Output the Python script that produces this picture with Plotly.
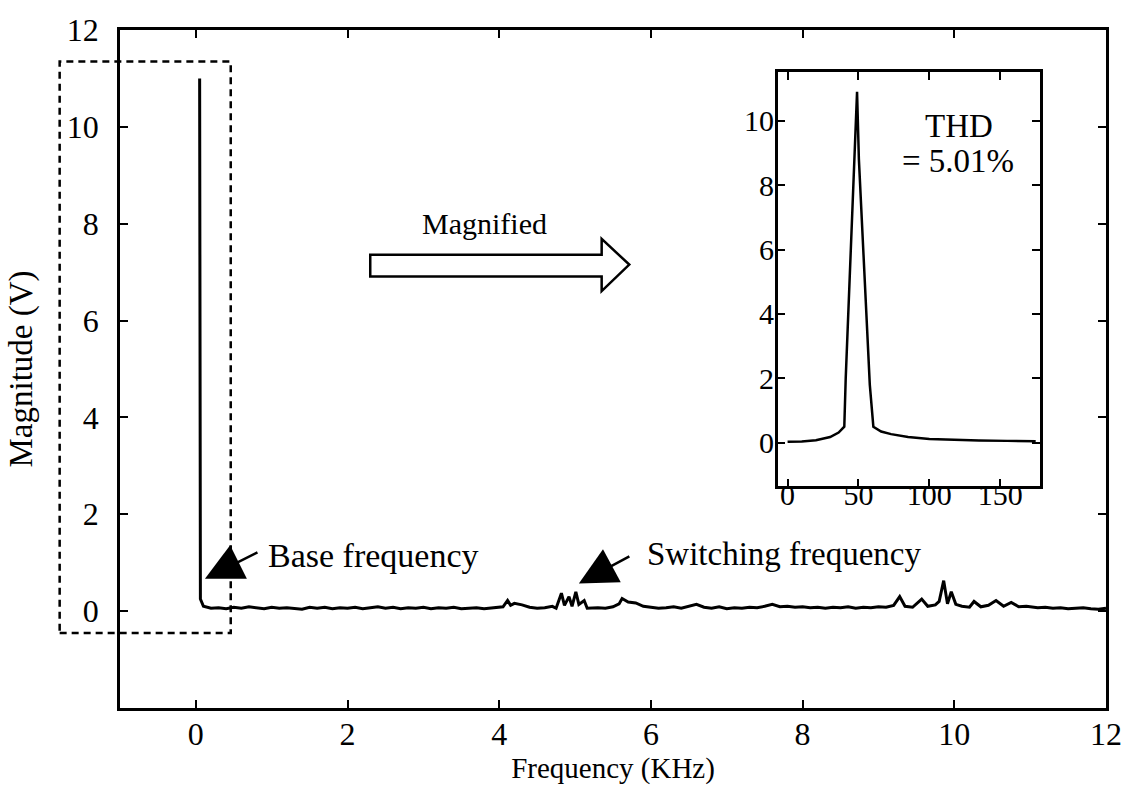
import plotly.graph_objects as go

# ---------------- data ----------------
# Main spectrum (frequency in kHz, magnitude in V)
freq_khz = [0.05, 0.06, 0.1, 0.2, 0.3, 0.4, 0.5, 0.6, 0.7, 0.8, 0.9, 1.0,
            1.1, 1.2, 1.3, 1.4, 1.5, 1.6, 1.7, 1.8, 1.9, 2.0,
            2.1, 2.2, 2.3, 2.4, 2.5, 2.6, 2.7, 2.8, 2.9, 3.0,
            3.1, 3.2, 3.3, 3.4, 3.5, 3.6, 3.7, 3.8, 3.9, 4.0,
            4.05, 4.11, 4.15, 4.2, 4.3, 4.4, 4.5, 4.6, 4.7, 4.75,
            4.82, 4.86, 4.92, 4.96, 5.01, 5.05, 5.12, 5.16, 5.3, 5.4,
            5.5, 5.58, 5.62, 5.7, 5.8, 5.9, 6.0, 6.1, 6.2, 6.3,
            6.4, 6.5, 6.6, 6.7, 6.8, 6.9, 7.0, 7.1, 7.2, 7.3,
            7.4, 7.5, 7.6, 7.7, 7.8, 7.9, 8.0, 8.1, 8.2, 8.3,
            8.4, 8.5, 8.6, 8.7, 8.8, 8.9, 9.0, 9.1, 9.2, 9.28,
            9.35, 9.45, 9.57, 9.65, 9.75, 9.8, 9.86, 9.91, 9.96, 10.02,
            10.1, 10.2, 10.26, 10.35, 10.45, 10.55, 10.65, 10.75, 10.85, 10.95,
            11.1, 11.2, 11.3, 11.4, 11.5, 11.6, 11.7, 11.8, 11.9, 12.0]
magnitude_v = [11.0, 0.25, 0.10, 0.06, 0.07, 0.05, 0.08, 0.06, 0.09, 0.07, 0.05, 0.08,
               0.06, 0.07, 0.05, 0.04, 0.08, 0.06, 0.08, 0.05, 0.07, 0.06,
               0.08, 0.05, 0.07, 0.09, 0.06, 0.08, 0.05, 0.07, 0.06, 0.08,
               0.05, 0.07, 0.06, 0.08, 0.05, 0.06, 0.07, 0.05, 0.06, 0.07,
               0.09, 0.22, 0.12, 0.16, 0.13, 0.08, 0.06, 0.07, 0.10, 0.06,
               0.37, 0.12, 0.30, 0.10, 0.40, 0.14, 0.22, 0.06, 0.07, 0.06,
               0.09, 0.15, 0.26, 0.19, 0.17, 0.10, 0.08, 0.06, 0.07, 0.09,
               0.06, 0.10, 0.14, 0.08, 0.06, 0.09, 0.05, 0.07, 0.06, 0.08,
               0.07, 0.10, 0.14, 0.09, 0.10, 0.08, 0.09, 0.07, 0.08, 0.06,
               0.08, 0.07, 0.09, 0.06, 0.08, 0.07, 0.09, 0.08, 0.12, 0.30,
               0.10, 0.08, 0.25, 0.10, 0.13, 0.20, 0.63, 0.15, 0.40, 0.14,
               0.10, 0.08, 0.20, 0.09, 0.12, 0.22, 0.10, 0.18, 0.09, 0.10,
               0.07, 0.08, 0.06, 0.07, 0.05, 0.06, 0.07, 0.05, 0.04, 0.06]

# Magnified inset (frequency in Hz)
inset_freq_hz = [0, 10, 20, 30, 36, 40, 41, 44, 47.5, 49, 50.3, 53, 56, 58, 60.5,
                 66, 73, 85, 100, 115, 135, 155, 175]
inset_mag_v = [0.03, 0.04, 0.08, 0.18, 0.32, 0.5, 2.0, 5.2, 8.8, 10.9, 8.8, 6.2, 3.8, 1.8, 0.5,
               0.35, 0.27, 0.18, 0.12, 0.09, 0.07, 0.06, 0.05]

main_xticks = [0, 2, 4, 6, 8, 10, 12]
main_yticks = [0, 2, 4, 6, 8, 10, 12]
inset_xticks = [0, 50, 100, 150]
inset_yticks = [0, 2, 4, 6, 8, 10]

FONT = "Liberation Serif"

fig = go.Figure()
fig.add_trace(go.Scatter(x=freq_khz, y=magnitude_v, mode="lines",
                         line=dict(color="black", width=3), xaxis="x", yaxis="y",
                         showlegend=False, hoverinfo="skip"))
fig.add_trace(go.Scatter(x=inset_freq_hz, y=inset_mag_v, mode="lines",
                         line=dict(color="black", width=2.5), xaxis="x2", yaxis="y2",
                         showlegend=False, hoverinfo="skip"))


def axis_common(size):
    return dict(showline=True, linecolor="black", linewidth=2.5, mirror="allticks",
                ticks="inside", ticklen=8, tickwidth=2, tickcolor="black",
                showgrid=False, zeroline=False,
                tickfont=dict(family=FONT, size=size, color="black"))


fig.update_layout(
    width=1134, height=790,
    margin=dict(l=120, r=17, t=20, b=82),
    paper_bgcolor="white", plot_bgcolor="white",
    font=dict(family=FONT, size=30, color="black"),
    xaxis=dict(range=[-1, 12], tickvals=main_xticks, domain=[0, 1],
               title=dict(text="Frequency (KHz)", font=dict(family=FONT, size=29), standoff=0),
               ticklabelstandoff=-4, **axis_common(32)),
    yaxis=dict(range=[-2, 12], tickvals=main_yticks, domain=[0, 1],
               title=dict(text="Magnitude (V)", font=dict(family=FONT, size=33), standoff=25),
               ticklabelstandoff=12, **axis_common(32)),
    xaxis2=dict(range=[-7, 178], tickvals=inset_xticks, domain=[0.667, 0.933],
                anchor="y2", ticklabelstandoff=-20, **axis_common(30)),
    yaxis2=dict(range=[-1.35, 11.5], tickvals=inset_yticks, domain=[0.327, 0.9375],
                anchor="x2", ticklabelstandoff=-5, **axis_common(30)),
)

shapes = []
# dashed region marking the magnified part
shapes.append(dict(type="rect", xref="paper", yref="paper",
                   x0=-0.0612, x1=0.1123, y0=0.1105, y1=0.9535,
                   line=dict(color="black", width=2.5, dash="7px,5px"), layer="above"))
# hollow block arrow "Magnified"
bx0, bx1, tip = 0.2538, 0.4885, 0.5165
by0, by1, hy0, hy1, ty = 0.6366, 0.6686, 0.6148, 0.6919, 0.654
path = (f"M {bx0},{by0} L {bx1},{by0} L {bx1},{hy0} L {tip},{ty} "
        f"L {bx1},{hy1} L {bx1},{by1} L {bx0},{by1} Z")
shapes.append(dict(type="path", xref="paper", yref="paper", path=path,
                   line=dict(color="black", width=2.5), fillcolor="white"))
fig.update_layout(shapes=shapes)

ann = []
ann.append(dict(x=3.81, y=8.0, xref="x", yref="y", text="Magnified", showarrow=False,
                font=dict(family=FONT, size=30)))
ann.append(dict(x=0.12, y=0.67, xref="x", yref="y", text="", showarrow=True,
                ax=54, ay=-27, arrowhead=2, arrowsize=3, arrowwidth=2.5, arrowcolor="black"))
ann.append(dict(x=0.93, y=1.14, xref="x", yref="y", text="Base frequency", showarrow=False,
                xanchor="left", font=dict(family=FONT, size=34)))
ann.append(dict(x=5.05, y=0.57, xref="x", yref="y", text="", showarrow=True,
                ax=52, ay=-28, arrowhead=2, arrowsize=3, arrowwidth=2.5, arrowcolor="black"))
ann.append(dict(x=5.92, y=1.18, xref="x", yref="y", text="Switching frequency", showarrow=False,
                xanchor="left", font=dict(family=FONT, size=33)))
ann.append(dict(x=121, y=9.85, xref="x2", yref="y2", text="THD", showarrow=False,
                font=dict(family=FONT, size=33)))
ann.append(dict(x=120, y=8.75, xref="x2", yref="y2", text="= 5.01%", showarrow=False,
                font=dict(family=FONT, size=33)))
fig.update_layout(annotations=ann)

fig.write_html("out.html")
